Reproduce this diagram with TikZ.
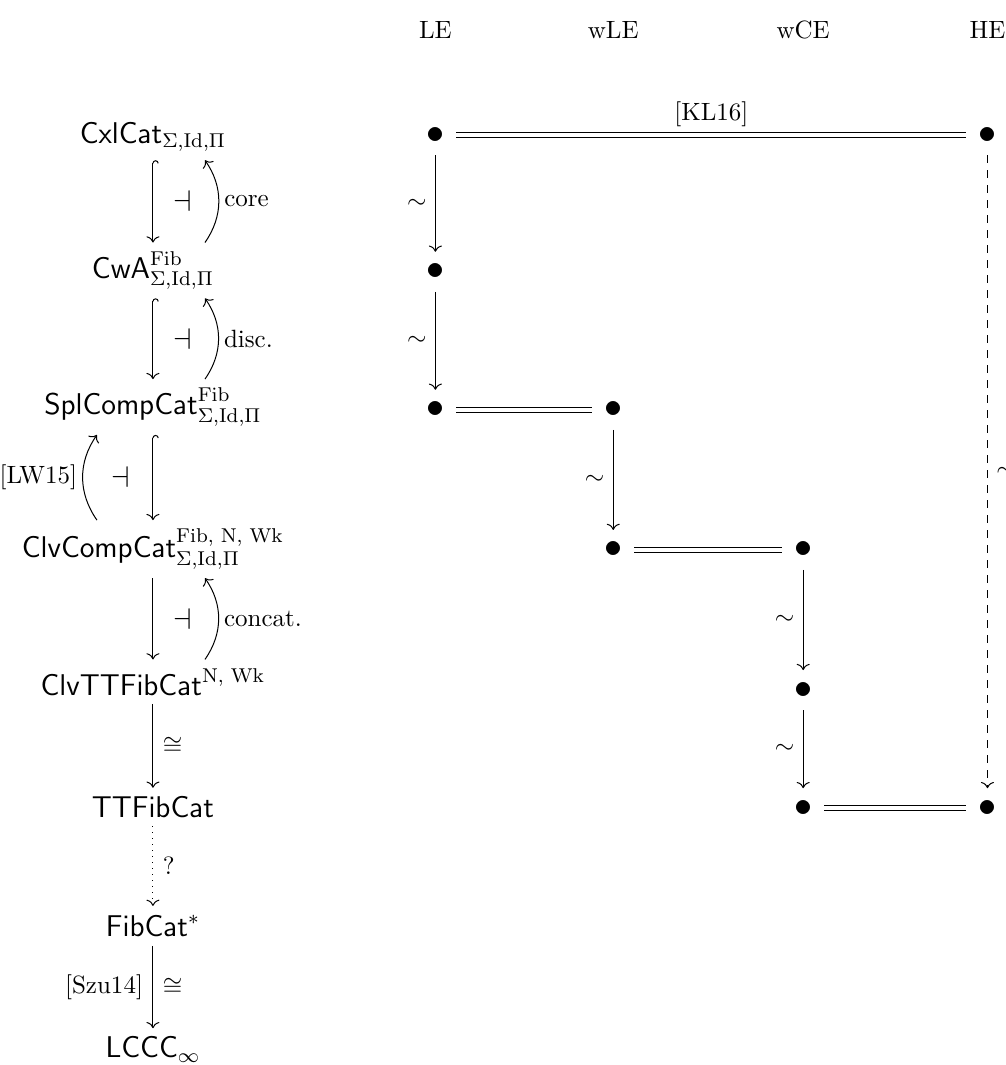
\documentclass[tikz,border=0pt]{standalone}
\usepackage{tikz}
\usetikzlibrary{arrows.meta,positioning}
\usepackage{amsmath,amssymb}

\begin{document}
\begin{tikzpicture}[
  cat/.style={font=\large, anchor=base},
  pt/.style={font=\Large, inner sep=4.6pt},
  arr/.style={-{Computer Modern Rightarrow}},
  incl/.style={{Hooks[right]}-{Computer Modern Rightarrow}},
  eq/.style={double, double distance=1.6pt},
  lbl/.style={inner sep=2pt},
  iso/.style={inner sep=3.8pt},
  adj/.style={font=\large, xshift=#1}
]
  \useasboundingbox (0,0) rectangle (14.13,-14.97);

  \node[cat] (cxl) at (2.15,-2.01) {$\mathsf{CxlCat}_{\Sigma,\mathrm{Id},\Pi}$};
  \node[cat] (cwa) at (2.15,-3.91) {$\mathsf{CwA}^{\mathrm{Fib}}_{\Sigma,\mathrm{Id},\Pi}$};
  \node[cat] (spl) at (2.15,-5.83) {$\mathsf{SplCompCat}^{\mathrm{Fib}}_{\Sigma,\mathrm{Id},\Pi}$};
  \node[cat] (clv) at (2.15,-7.83) {$\mathsf{ClvCompCat}^{\textrm{Fib, N, Wk}}_{\Sigma,\mathrm{Id},\Pi}$};
  \node[cat] (clvtt) at (2.15,-9.77) {$\mathsf{ClvTTFibCat}^{\textrm{N, Wk}}$};
  \node[cat] (tt) at (2.15,-11.49) {$\mathsf{TTFibCat}$};
  \node[cat] (fib) at (2.15,-13.17) {$\mathsf{FibCat}^{*}$};
  \node[cat] (lccc) at (2.15,-14.87) {$\mathsf{LCCC}_{\infty}$};

  \draw[incl] (cxl) -- node[adj=12pt] {$\dashv$} (cwa);
  \draw[arr] ([xshift=20.8pt]cwa.north) to[bend right=35] node[right, lbl] {core} ([xshift=20.8pt]cxl.south);
  \draw[incl] (cwa) -- node[adj=12pt] {$\dashv$} (spl);
  \draw[arr] ([xshift=20.8pt]spl.north) to[bend right=35] node[right, lbl] {disc.} ([xshift=20.8pt]cwa.south);
  \draw[incl] (spl) -- node[adj=-13pt] {$\dashv$} (clv);
  \draw[arr] ([xshift=-22.4pt]clv.north) to[bend left=35] node[left, lbl] {[LW15]} ([xshift=-22.4pt]spl.south);
  \draw[arr] (clv) -- node[adj=12pt] {$\dashv$} (clvtt);
  \draw[arr] ([xshift=20.8pt]clvtt.north) to[bend right=35] node[right, lbl] {concat.} ([xshift=20.8pt]clv.south);
  \draw[arr] (clvtt) -- node[right, iso] {$\cong$} (tt);
  \draw[arr, dotted] (tt) -- node[right, iso] {?} (fib);
  \draw[arr] (fib) -- node[right, iso] {$\cong$} node[left, iso] {[Szu14]} (lccc);

  \node (hle) at (6.12,-0.42) {LE};
  \node (hwle) at (8.62,-0.42) {wLE};
  \node (hwce) at (11.29,-0.42) {wCE};
  \node (hhe) at (13.88,-0.42) {HE};

  \node[pt] (le1) at (6.12,-1.90) {$\bullet$};
  \node[pt] (he1) at (13.88,-1.90) {$\bullet$};
  \node[pt] (le2) at (6.12,-3.82) {$\bullet$};
  \node[pt] (le3) at (6.12,-5.76) {$\bullet$};
  \node[pt] (wle3) at (8.62,-5.76) {$\bullet$};
  \node[pt] (wle4) at (8.62,-7.73) {$\bullet$};
  \node[pt] (wce4) at (11.29,-7.73) {$\bullet$};
  \node[pt] (wce5) at (11.29,-9.70) {$\bullet$};
  \node[pt] (wce6) at (11.29,-11.36) {$\bullet$};
  \node[pt] (he6) at (13.88,-11.36) {$\bullet$};

  \draw[eq] (le1) -- node[above] {[KL16]} (he1);
  \draw[arr] (le1) -- node[left] {$\sim$} (le2);
  \draw[arr] (le2) -- node[left] {$\sim$} (le3);
  \draw[eq] (le3) -- (wle3);
  \draw[arr] (wle3) -- node[left] {$\sim$} (wle4);
  \draw[eq] (wle4) -- (wce4);
  \draw[arr] (wce4) -- node[left] {$\sim$} (wce5);
  \draw[arr] (wce5) -- node[left] {$\sim$} (wce6);
  \draw[eq] (wce6) -- (he6);
  \draw[arr, dashed] (he1) -- node[right] {$\sim$} (he6);
\end{tikzpicture}
\end{document}
